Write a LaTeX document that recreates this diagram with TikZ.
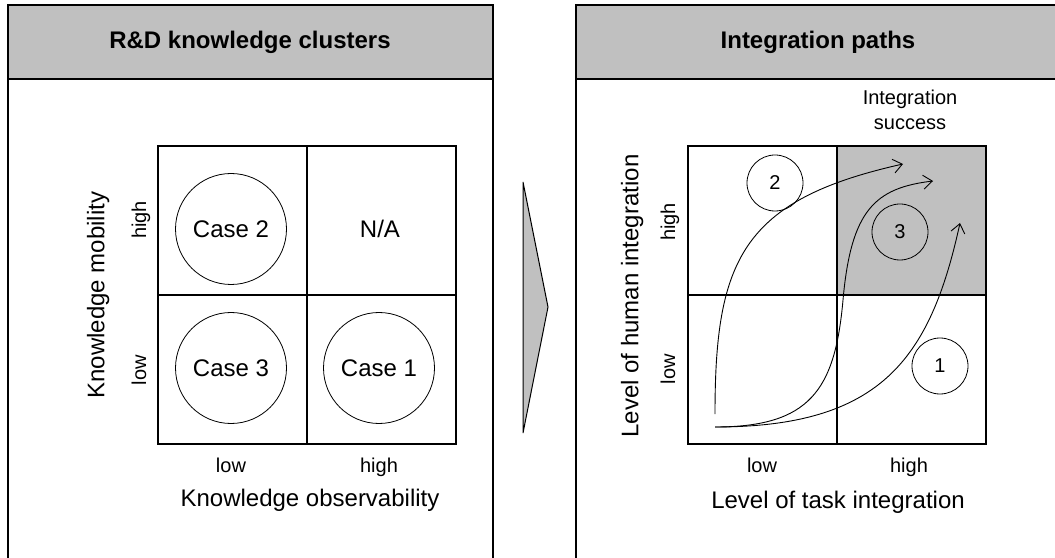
\documentclass[tikz,border=0pt]{standalone}
\usepackage{fontspec}
\setmainfont{Liberation Sans}
\usetikzlibrary{arrows.meta}
\definecolor{headgray}{HTML}{C0C0C0}
\begin{document}
\begin{tikzpicture}[x=1bp,y=-1bp,
  every node/.style={inner sep=0pt, font=\fontsize{24bp}{28bp}\selectfont},
  small/.style={font=\fontsize{20bp}{25bp}\selectfont},
  sml/.style={small, text height=14.5bp, text depth=4.2bp},
  big/.style={text height=17.5bp, text depth=5bp},
  paneltitle/.style={font=\fontsize{24bp}{28bp}\selectfont\bfseries},
  frame/.style={draw=black, line width=1.4bp},
  gridline/.style={draw=black, line width=1.3bp},
  casecirc/.style={draw, circle, minimum size=111bp, line width=0.8bp},
  numcirc/.style={draw, circle, minimum size=56bp, line width=0.8bp, font=\fontsize{20bp}{24bp}\selectfont},
  flow/.style={draw, line width=0.9bp, -{Straight Barb[length=9bp,width=14bp,line width=0.9bp]}},
  bigarrow/.style={draw=black, fill=headgray, line width=1bp, line join=miter}
]
\useasboundingbox (0,0) rectangle (1055,558);
\clip (0,0) rectangle (1055,558);

% ---------- left panel ----------
\fill[headgray] (8,5) rectangle (493,79);
\draw[frame] (8,600) -- (8,5) -- (493,5) -- (493,600);
\draw[frame] (8,79) -- (493,79);
\node[paneltitle] (t1) at (250,42) {R\&D knowledge clusters};

\draw[gridline] (158,146) rectangle (456,444);
\draw[gridline] (307,146) -- (307,444);
\draw[gridline] (158,295) -- (456,295);

\node[casecirc] (c2) at (231,229) {Case 2};
\node (na) at (380,229) {N/A};
\node[casecirc] (c3) at (231,368) {Case 3};
\node[casecirc] (c1) at (379,368) {Case 1};

\node[sml, rotate=90] (lh) at (141,220) {high};
\node[sml, rotate=90] (ll) at (141,370) {low};
\node[big, rotate=90] (ly) at (98,295) {Knowledge mobility};
\node[sml] (lxl) at (231,467) {low};
\node[sml] (lxh) at (379,467) {high};
\node[big] (lx) at (310,500) {Knowledge observability};

% ---------- arrow between panels ----------
\draw[bigarrow] (523,182) -- (548,307) -- (523,433) -- cycle;

% ---------- right panel ----------
\fill[headgray] (576,5) rectangle (1062,79);
\draw[frame] (576,600) -- (576,5) -- (1062,5);
\draw[frame] (576,79) -- (1062,79);
\node[paneltitle] (t2) at (818,42) {Integration paths};

\fill[headgray] (837,146) rectangle (986,295);
\draw[gridline] (688,146) rectangle (986,444);
\draw[gridline] (837,146) -- (837,444);
\draw[gridline] (688,295) -- (986,295);

\node[small, align=center] (succ) at (910,110) {Integration\\success};

\node[numcirc] (n2) at (775,183) {2};
\node[numcirc] (n3) at (900,232) {3};
\node[numcirc] (n1) at (940,366) {1};

\node[sml, rotate=90] (rh) at (670,222) {high};
\node[sml, rotate=90] (rl) at (670,369) {low};
\node[big, rotate=90] (ry) at (632,296) {Level of human integration};
\node[sml] (rxl) at (762,467) {low};
\node[sml] (rxh) at (909,467) {high};
\node[big] (rx) at (838,502) {Level of task integration};

\coordinate (s1) at (715,414);
\coordinate (s2) at (715,427);
\coordinate (m2) at (843,300);
\coordinate (e1) at (903,164);
\coordinate (e2) at (933,181);
\coordinate (e3) at (960,223);

\draw[flow] (s1) .. controls (715,260) and (742,200) .. (e1);
\draw[flow] (s2) .. controls (810,427) and (835,390) .. (m2) .. controls (851,210) and (875,188) .. (e2);
\draw[flow] (s2) .. controls (880,427) and (930,360) .. (e3);
\end{tikzpicture}
\end{document}
